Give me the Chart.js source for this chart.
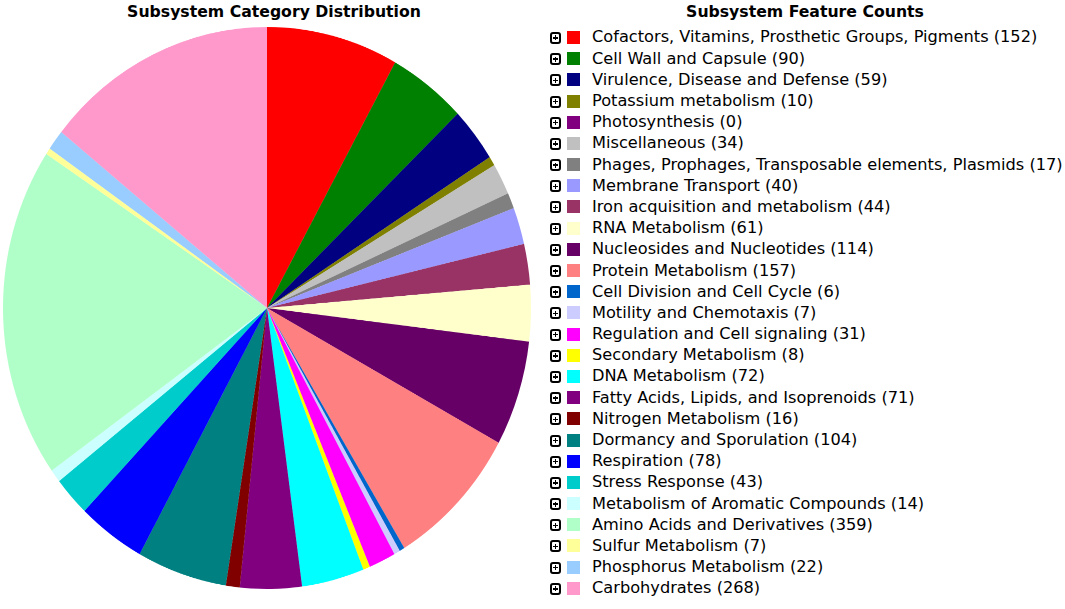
<!DOCTYPE html>
<html>
<head>
<meta charset="utf-8">
<script src="https://cdn.jsdelivr.net/npm/chart.js@4.4.0/dist/chart.umd.min.js"></script>
<style>
  html, body { margin: 0; padding: 0; background: #fff; }
  body { width: 1065px; height: 609px; position: relative; overflow: hidden; font-family: "DejaVu Sans", Verdana, sans-serif; color: #000; }
  .title { position: absolute; font-weight: bold; font-size: 15.7px; white-space: nowrap; transform: translate(-50%, -50%); }
  #pieWrap { position: absolute; left: 3px; top: 27px; width: 528px; height: 528px; transform-origin: 0 0; transform: scaleY(1.0644); }
  #legend { position: absolute; left: 550px; top: 26.4px; }
  .row { height: 21.2px; display: flex; align-items: center; white-space: nowrap; font-size: 16.2px; }
  .tog { width: 7px; height: 8px; border: 2px solid #000; border-radius: 3px; position: relative; box-sizing: content-box; margin-top: 2px; }
  .tog::before { content: ""; position: absolute; left: 1px; top: 3.25px; width: 5px; height: 1.5px; background: #000; }
  .tog::after { content: ""; position: absolute; left: 2.75px; top: 1.5px; width: 1.5px; height: 5px; background: #000; }
  .sw { width: 13px; height: 13px; margin-left: 6px; margin-right: 12px; margin-top: 1px; }
</style>
</head>
<body>
<div class="title" style="left:274px; top:11px;">Subsystem Category Distribution</div>
<div class="title" style="left:805px; top:11px;">Subsystem Feature Counts</div>
<div id="pieWrap"><canvas id="pie" width="528" height="528" style="width:528px;height:528px;"></canvas></div>
<div id="legend"></div>
<script>
const categories = [
  "Cofactors, Vitamins, Prosthetic Groups, Pigments",
  "Cell Wall and Capsule",
  "Virulence, Disease and Defense",
  "Potassium metabolism",
  "Photosynthesis",
  "Miscellaneous",
  "Phages, Prophages, Transposable elements, Plasmids",
  "Membrane Transport",
  "Iron acquisition and metabolism",
  "RNA Metabolism",
  "Nucleosides and Nucleotides",
  "Protein Metabolism",
  "Cell Division and Cell Cycle",
  "Motility and Chemotaxis",
  "Regulation and Cell signaling",
  "Secondary Metabolism",
  "DNA Metabolism",
  "Fatty Acids, Lipids, and Isoprenoids",
  "Nitrogen Metabolism",
  "Dormancy and Sporulation",
  "Respiration",
  "Stress Response",
  "Metabolism of Aromatic Compounds",
  "Amino Acids and Derivatives",
  "Sulfur Metabolism",
  "Phosphorus Metabolism",
  "Carbohydrates"
];
const featureCounts = [152, 90, 59, 10, 0, 34, 17, 40, 44, 61, 114, 157, 6, 7, 31, 8, 72, 71, 16, 104, 78, 43, 14, 359, 7, 22, 268];
const sliceColors = [
  "#FF0000", "#008000", "#000080", "#808000", "#800080", "#C0C0C0", "#808080",
  "#9999FF", "#993366", "#FFFFCC", "#660066", "#FF8080", "#0066CC", "#CCCCFF",
  "#FF00FF", "#FFFF00", "#00FFFF", "#800080", "#800000", "#008080", "#0000FF",
  "#00CCCC", "#CCFFFF", "#B0FFC8", "#FFFF99", "#99CCFF", "#FF99CC"
];

new Chart(document.getElementById("pie"), {
  type: "pie",
  data: {
    labels: categories,
    datasets: [{ data: featureCounts, backgroundColor: sliceColors, borderWidth: 0 }]
  },
  options: {
    responsive: false,
    animation: false,
    devicePixelRatio: 2,
    layout: { padding: 0 },
    plugins: { legend: { display: false }, tooltip: { enabled: false }, title: { display: false } }
  }
});

const legend = document.getElementById("legend");
categories.forEach((name, i) => {
  const row = document.createElement("div");
  row.className = "row";
  const tog = document.createElement("span"); tog.className = "tog";
  const sw = document.createElement("span"); sw.className = "sw"; sw.style.background = sliceColors[i];
  const txt = document.createElement("span"); txt.textContent = name + " (" + featureCounts[i] + ")";
  row.appendChild(tog); row.appendChild(sw); row.appendChild(txt);
  legend.appendChild(row);
});
</script>
</body>
</html>
